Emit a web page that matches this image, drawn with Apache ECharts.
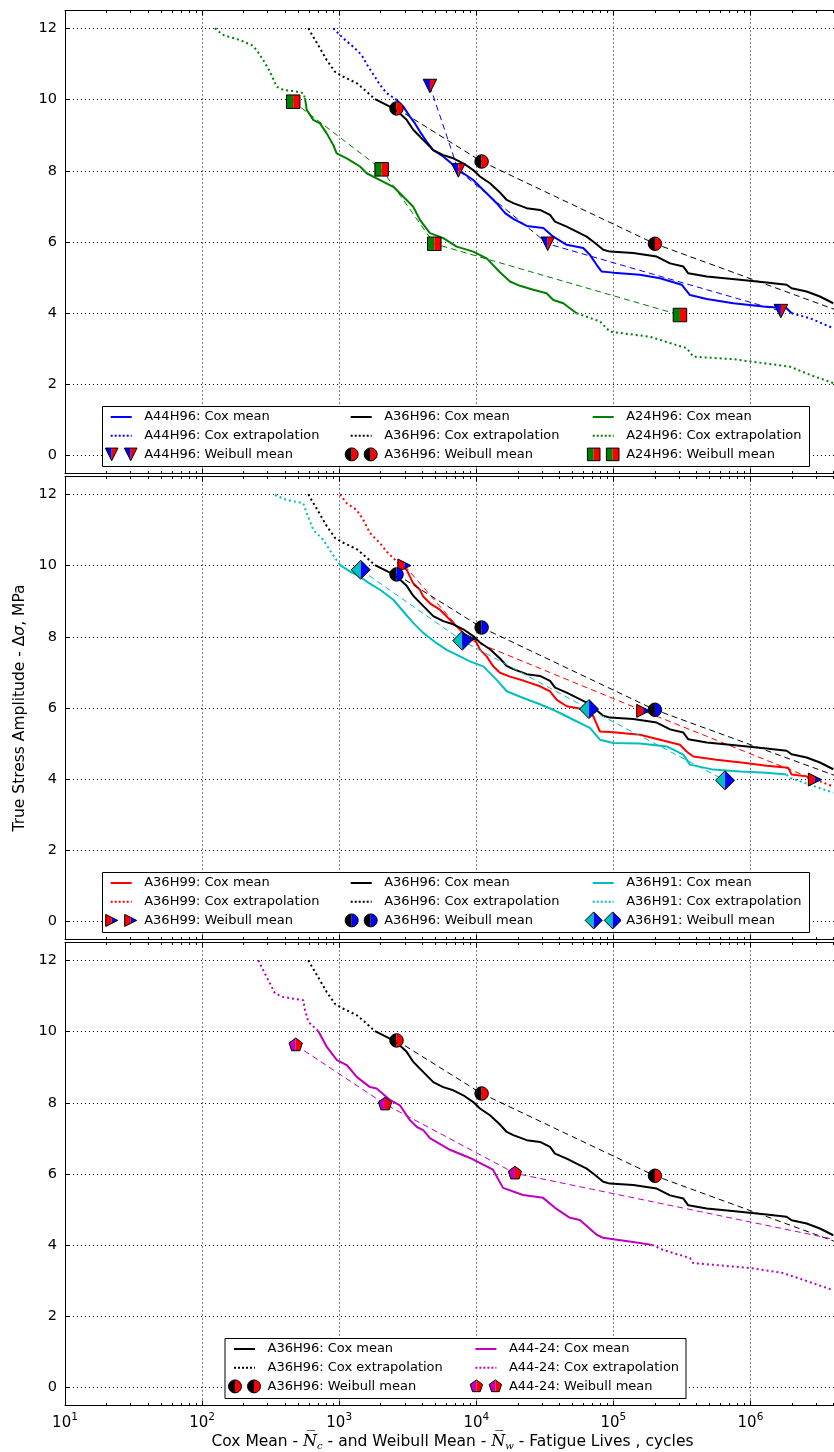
<!DOCTYPE html>
<html>
<head>
<meta charset="utf-8">
<script src="https://cdn.jsdelivr.net/npm/echarts@6.0.0/dist/echarts.min.js"></script>
<style>
html,body{margin:0;padding:0;background:#fff;}
#chart{width:834px;height:1452px;}
</style>
</head>
<body>
<div id="chart"></div>
<script>
// ================= DATA (cycles, stress MPa) =================
const minorTickValues = [20,30,40,50,60,70,80,90,
  200,300,400,500,600,700,800,900,
  2000,3000,4000,5000,6000,7000,8000,9000,
  20000,30000,40000,50000,60000,70000,80000,90000,
  200000,300000,400000,500000,600000,700000,800000,900000,
  2000000,3000000,4000000];

// A36H96 (black) - same in all panels
const a36h96ExtrapLeft = [[596,12.0],[647,11.76],[724,11.44],[811,11.11],[931,10.78],[1071,10.64],[1342,10.46],[1588,10.22],[1824,10.01]];
const a36h96CoxMean = [[1824,10.01],[1985,9.94],[2344,9.80],[2773,9.61],[3105,9.43],[3468,9.15],[3881,8.96],[4343,8.77],[4857,8.58],[5744,8.44],[6797,8.35],[8041,8.21],[9510,8.02],[10640,7.84],[12590,7.65],[14890,7.39],[16680,7.18],[18630,7.09],[23340,6.95],[29170,6.90],[34510,6.76],[37540,6.57],[45640,6.43],[53970,6.29],[63860,6.15],[73450,5.97],[84400,5.78],[94450,5.73],[139600,5.69],[207000,5.59],[259000,5.40],[324000,5.31],[352000,5.12],[480000,5.03],[838000,4.94],[1312000,4.86],[1836000,4.80],[1997000,4.70],[2569000,4.61],[3212000,4.47],[4018000,4.28]];
const a36h96Weibull = [[2620,9.75],[10940,8.26],[201000,5.95],[4900000,4.00]];

// A44H96 (blue)
const a44h96ExtrapLeft = [[906,12.0],[1071,11.72],[1267,11.48],[1459,11.25],[1630,10.92],[1824,10.64],[1985,10.41],[2222,10.18],[2624,9.99]];
const a44h96CoxMean = [[2624,9.99],[2938,9.80],[3283,9.52],[3571,9.33],[3881,9.10],[4343,8.82],[4857,8.58],[5744,8.40],[6797,8.16],[8041,7.93],[9510,7.74],[10640,7.55],[11910,7.37],[14090,7.09],[16220,6.81],[18630,6.65],[23340,6.45],[30830,6.39],[36480,6.15],[45640,5.92],[60260,5.83],[67450,5.64],[75510,5.36],[82220,5.17],[99800,5.14],[156300,5.08],[218800,4.98],[315000,4.80],[362000,4.51],[480000,4.40],[750000,4.28],[1240000,4.19],[1836000,4.14],[1997000,4.00]];
const a44h96ExtrapRight = [[1997000,4.00],[2716000,3.86],[4018000,3.58]];
const a44h96Weibull = [[4590,10.38],[7400,8.01],[33200,5.95],[1667000,4.06]];

// A24H96 (green)
const a24h96ExtrapLeft = [[124,12.0],[143,11.81],[189,11.67],[230,11.53],[250,11.39],[279,11.11],[313,10.78],[350,10.36],[391,10.27],[462,10.24],[547,10.18],[563,10.04]];
const a24h96CoxMean = [[563,10.04],[580,9.71],[647,9.43],[724,9.33],[811,9.05],[906,8.72],[959,8.49],[1135,8.35],[1419,8.12],[1588,7.93],[1985,7.74],[2483,7.55],[2938,7.27],[3468,6.99],[3881,6.62],[4592,6.25],[5744,6.11],[7194,5.87],[9510,5.73],[11910,5.54],[14890,5.15],[17620,4.89],[20840,4.77],[26060,4.66],[32590,4.56],[36480,4.37],[43150,4.28],[48200,4.14],[53970,4.00]];
const a24h96ExtrapRight = [[53970,4.00],[79800,3.77],[94450,3.48],[184500,3.34],[342000,3.02],[383000,2.78],[750000,2.71],[1941000,2.50],[2716000,2.27],[4018000,2.04]];
const a24h96Weibull = [[462,9.94],[2040,8.04],[4940,5.95],[306000,3.95]];

// A36H99 (red)
const a36h99ExtrapLeft = [[1014,12.0],[1135,11.75],[1342,11.56],[1500,11.28],[1679,10.91],[1985,10.63],[2222,10.39],[2483,10.21],[2773,10.02]];
const a36h99CoxMean = [[2773,10.02],[3105,9.88],[3283,9.69],[3468,9.50],[3881,9.32],[4102,9.13],[4592,8.94],[5433,8.76],[6427,8.48],[7603,8.20],[8511,8.01],[9780,7.92],[10640,7.64],[11910,7.45],[13300,7.17],[14890,6.99],[17620,6.88],[22030,6.77],[29170,6.61],[34510,6.47],[38650,6.23],[45640,6.05],[53970,6.00],[63860,5.95],[71290,5.77],[79800,5.34],[99800,5.32],[156300,5.25],[218800,5.11],[306000,4.97],[342000,4.78],[383000,4.64],[566000,4.55],[885000,4.46],[1312000,4.38],[1888000,4.32],[1997000,4.13],[2569000,4.08],[2716000,3.99]];
const a36h99ExtrapRight = [[2716000,3.99],[3212000,3.94],[4018000,3.80]];
const a36h99Weibull = [[2990,10.00],[8750,7.94],[165000,5.92],[2950000,3.99]];

// A36H91 (cyan)
const a36h91ExtrapLeft = [[340,11.98],[414,11.84],[547,11.75],[580,11.47],[647,11.00],[766,10.72],[882,10.35],[1014,10.02]];
const a36h91CoxMean = [[1014,10.02],[1199,9.83],[1419,9.69],[1588,9.55],[1985,9.32],[2483,9.04],[2938,8.71],[3468,8.39],[4102,8.11],[5138,7.82],[6081,7.63],[7603,7.45],[8995,7.31],[11250,7.17],[14090,6.79],[16680,6.47],[22030,6.28],[27610,6.14],[36480,5.95],[40740,5.86],[51050,5.67],[67450,5.44],[79800,5.11],[99800,5.02],[156300,5.00],[245000,4.92],[324000,4.69],[362000,4.41],[535000,4.27],[838000,4.22],[1312000,4.18],[1836000,4.13]];
const a36h91ExtrapRight = [[1836000,4.13],[1941000,4.04],[4018000,3.62]];
const a36h91Weibull = [[1436,9.88],[7900,7.89],[66400,5.97],[652000,3.97]];

// A44-24 (magenta)
const a4424ExtrapLeft = [[257,12.0],[279,11.72],[313,11.35],[340,11.07],[391,10.97],[547,10.88],[563,10.60],[596,10.27],[705,10.01]];
const a4424CoxMean = [[705,10.01],[815,9.56],[963,9.20],[1135,9.06],[1349,8.72],[1679,8.44],[1875,8.40],[2350,8.08],[2773,7.93],[2918,7.80],[3283,7.51],[3690,7.32],[4102,7.23],[4592,7.01],[6427,6.68],[8995,6.45],[13240,6.12],[15670,5.61],[21930,5.41],[30690,5.33],[37540,5.05],[48200,4.77],[57020,4.71],[75860,4.29],[83950,4.21],[139000,4.09],[191400,4.01]];
const a4424ExtrapRight = [[191400,4.01],[230000,3.87],[362000,3.64],[381000,3.50],[993000,3.36],[1726000,3.22],[4018000,2.74]];
const a4424Weibull = [[482,9.62],[2160,7.96],[19150,6.02],[6600000,4.00]];

// ================= STYLE / LAYOUT =================
const FONT = 'DejaVu Sans';
const X_MIN = 10, X_MAX = 4.5e6, Y_MIN = -0.5, Y_MAX = 12.5;
const PANEL_TOPS = [10.5, 476.5, 942.5];
const PANEL_H = 463;
const COL = {blue:'#0000ff', green:'#008000', red:'#ff0000', cyan:'#00bfbf', magenta:'#bf00bf', black:'#000000'};

const SHAPES = {
  'v': {full:[[-1,-1],[1,-1],[0,1]], L:[[-1,-1],[0,-1],[0,1]], R:[[0,-1],[1,-1],[0,1]]},
  '>': {full:[[-1,-1],[1,0],[-1,1]], L:[[-1,-1],[0,-0.5],[0,0.5],[-1,1]], R:[[0,-0.5],[1,0],[0,0.5]]},
  's': {full:[[-1,-1],[1,-1],[1,1],[-1,1]], L:[[-1,-1],[0,-1],[0,1],[-1,1]], R:[[0,-1],[1,-1],[1,1],[0,1]]},
  'D': {full:[[0,-1],[1,0],[0,1],[-1,0]], L:[[0,-1],[0,1],[-1,0]], R:[[0,-1],[1,0],[0,1]]},
  'p': {full:[[0,-1],[0.951,-0.309],[0.588,0.809],[-0.588,0.809],[-0.951,-0.309]],
        L:[[0,-1],[-0.951,-0.309],[-0.588,0.809],[0,0.809]], R:[[0,-1],[0.951,-0.309],[0.588,0.809],[0,0.809]]}
};
const MARKER_R = {'v':6.75,'>':6.5,'s':6.75,'o':6.75,'D':9.5,'p':7};
const LEGEND_R = {'v':6.3,'>':6.0,'s':6.3,'o':6.5,'D':8.5,'p':6.5};

function markerMarkup(shape, cL, cR, r, cx, cy) {
  if (shape === 'o') {
    return `<path d="M${cx},${cy-r} A${r},${r} 0 0,0 ${cx},${cy+r} Z" fill="${cL}"/>` +
           `<path d="M${cx},${cy-r} A${r},${r} 0 0,1 ${cx},${cy+r} Z" fill="${cR}"/>` +
           `<circle cx="${cx}" cy="${cy}" r="${r}" fill="none" stroke="#000" stroke-width="1"/>`;
  }
  const s = SHAPES[shape];
  const P = arr => arr.map(([x,y]) => (cx + x*r).toFixed(2) + ',' + (cy + y*r).toFixed(2)).join(' ');
  return `<polygon points="${P(s.L)}" fill="${cL}"/><polygon points="${P(s.R)}" fill="${cR}"/>` +
         `<polygon points="${P(s.full)}" fill="none" stroke="#000" stroke-width="1"/>`;
}
function svgUrl(w, h, inner) {
  const svg = `<svg xmlns="http://www.w3.org/2000/svg" width="${w}" height="${h}" viewBox="0 0 ${w} ${h}">${inner}</svg>`;
  return 'image://data:image/svg+xml;charset=utf-8,' + encodeURIComponent(svg);
}
function chartSymbol(shape, cL, cR) {
  const r = MARKER_R[shape];
  const S = Math.ceil(2*r + 3);
  return {url: svgUrl(S, S, markerMarkup(shape, cL, cR, r, S/2, S/2)), size: S};
}
function legendMarkerIcon(shape, cL, cR) {
  const r = LEGEND_R[shape];
  return svgUrl(40, 20, markerMarkup(shape, cL, cR, r, 12.5, 10) + markerMarkup(shape, cL, cR, r, 31.5, 10));
}
function legendLineIcon(color, dotted) {
  const dash = dotted ? ' stroke-dasharray="2,2"' : '';
  return svgUrl(40, 20, `<line x1="11.5" y1="10" x2="32.5" y2="10" stroke="${color}" stroke-width="2"${dash}/>`);
}

const groups = [
  {panel:0, name:'A44H96', color:COL.blue,  mean:a44h96CoxMean, extrap:[a44h96ExtrapLeft, a44h96ExtrapRight], weib:a44h96Weibull, shape:'v', cL:COL.blue,  cR:COL.red},
  {panel:0, name:'A36H96', color:COL.black, mean:a36h96CoxMean, extrap:[a36h96ExtrapLeft], weib:a36h96Weibull, shape:'o', cL:COL.black, cR:COL.red},
  {panel:0, name:'A24H96', color:COL.green, mean:a24h96CoxMean, extrap:[a24h96ExtrapLeft, a24h96ExtrapRight], weib:a24h96Weibull, shape:'s', cL:COL.green, cR:COL.red},
  {panel:1, name:'A36H99', color:COL.red,   mean:a36h99CoxMean, extrap:[a36h99ExtrapLeft, a36h99ExtrapRight], weib:a36h99Weibull, shape:'>', cL:COL.red,   cR:COL.blue},
  {panel:1, name:'A36H96', color:COL.black, mean:a36h96CoxMean, extrap:[a36h96ExtrapLeft], weib:a36h96Weibull, shape:'o', cL:COL.black, cR:COL.blue},
  {panel:1, name:'A36H91', color:COL.cyan,  mean:a36h91CoxMean, extrap:[a36h91ExtrapLeft, a36h91ExtrapRight], weib:a36h91Weibull, shape:'D', cL:COL.cyan,  cR:COL.blue},
  {panel:2, name:'A36H96', color:COL.black, mean:a36h96CoxMean, extrap:[a36h96ExtrapLeft], weib:a36h96Weibull, shape:'o', cL:COL.black, cR:COL.red},
  {panel:2, name:'A44-24', color:COL.magenta, mean:a4424CoxMean, extrap:[a4424ExtrapLeft, a4424ExtrapRight], weib:a4424Weibull, shape:'p', cL:COL.magenta, cR:COL.red}
];

// legend layout (style)
const LEGEND_BOX = [
  {x:102.5, y:406.5, w:707, h:60, cols:[103.2, 343.2, 585.2]},
  {x:102.5, y:872.5, w:707, h:60, cols:[103.2, 343.2, 585.2]},
  {x:225.0, y:1338.5, w:461, h:60, cols:[226.5, 467.9]}
];

// ================= OPTION =================
const grids = [], xAxes = [], yAxes = [], series = [], legends = [], graphics = [];

const supFormatter = v => {
  const e = Math.round(Math.log10(v));
  return '{b|10}{s|' + e + '}';
};

PANEL_TOPS.forEach((top, g) => {
  grids.push({left:65, right:-6, top:top, height:PANEL_H, outerBoundsMode:'none', containLabel:false});
  // bottom x axis
  xAxes.push({
    type:'log', logBase:10, gridIndex:g, min:X_MIN, max:X_MAX, position:'bottom',
    axisLine:{show:true, onZero:false, lineStyle:{color:'#000', width:1}},
    axisTick:{show:true, inside:true, length:5, lineStyle:{color:'#000', width:1}},
    minorTick:{show:false},
    axisLabel:{show: g===2, showMaxLabel:false, margin:6.5, color:'#000', fontFamily:FONT, fontSize:15,
      formatter: supFormatter,
      rich:{ b:{fontSize:15, lineHeight:19, fontFamily:FONT, color:'#000', verticalAlign:'bottom'},
             s:{fontSize:10.5, lineHeight:10, fontFamily:FONT, color:'#000', verticalAlign:'top'} }},
    splitLine:{show:true, lineStyle:{color:'#000', width:1, type:[1,3]}},
    name: g===2 ? '{t|Cox Mean - }{m|N\u0305}{sub|c}{t| - and Weibull Mean - }{m|N\u0305}{sub|w}{t| - Fatigue Lives , cycles}' : '',
    nameLocation:'middle', nameGap:26,
    nameTextStyle:{color:'#000', fontFamily:FONT, fontSize:15.5,
      rich:{ t:{fontSize:15.5, fontFamily:FONT, color:'#000', lineHeight:20},
             m:{fontSize:16, fontFamily:'DejaVu Serif', fontStyle:'italic', color:'#000', lineHeight:20},
             sub:{fontSize:10, fontFamily:'DejaVu Serif', fontStyle:'italic', color:'#000', lineHeight:9, verticalAlign:'bottom'} }}
  });
  // top x axis (ticks only)
  xAxes.push({
    type:'log', logBase:10, gridIndex:g, min:X_MIN, max:X_MAX, position:'top',
    axisLine:{show:true, onZero:false, lineStyle:{color:'#000', width:1}},
    axisTick:{show:true, inside:true, length:5, lineStyle:{color:'#000', width:1}},
    axisLabel:{show:false}, splitLine:{show:false}
  });
  yAxes.push({
    type:'value', gridIndex:g, min:Y_MIN, max:Y_MAX, splitNumber:6,
    axisLine:{show:true, onZero:false, lineStyle:{color:'#000', width:1}},
    axisTick:{show:true, inside:true, length:5, lineStyle:{color:'#000', width:1}},
    axisLabel:{show:true, showMinLabel:false, showMaxLabel:false, margin:8, color:'#000', fontSize:14.5, fontFamily:FONT},
    splitLine:{show:true, lineStyle:{color:'#000', width:1, type:[1,3]}},
    name: g===1 ? '{t|True Stress Amplitude - Δ}{i|σ}{t|, MPa}' : '',
    nameLocation:'middle', nameGap:35, nameRotate:90,
    nameTextStyle:{color:'#000', fontFamily:FONT, fontSize:15.5,
      rich:{ t:{fontSize:15.5, fontFamily:FONT, color:'#000'},
             i:{fontSize:15.5, fontFamily:FONT, fontStyle:'italic', color:'#000'} }}
  });
  // minor ticks (top and bottom) drawn from the axis scale
  series.push({
    type:'custom', xAxisIndex:2*g, yAxisIndex:g, silent:true, clip:false, z:1,
    data: minorTickValues.map(v => [v, 0]),
    renderItem: (params, api) => {
      const v = api.value(0);
      const b = api.coord([v, Y_MIN]);
      const t = api.coord([v, Y_MAX]);
      const x = Math.round(b[0]) + 0.5;
      return {type:'group', children:[
        {type:'line', shape:{x1:x, y1:b[1], x2:x, y2:b[1]-2.5}, style:{stroke:'#000', lineWidth:1}},
        {type:'line', shape:{x1:x, y1:t[1], x2:x, y2:t[1]+2.5}, style:{stroke:'#000', lineWidth:1}}
      ]};
    }
  });
});

groups.forEach(gr => {
  const xi = gr.panel*2, yi = gr.panel;
  series.push({type:'line', name:gr.name + ': Cox mean', xAxisIndex:xi, yAxisIndex:yi, data:gr.mean,
    showSymbol:false, symbol:'none', silent:true, z:2,
    lineStyle:{color:gr.color, width:2}, itemStyle:{color:gr.color}});
  gr.extrap.forEach(seg => series.push({type:'line', name:gr.name + ': Cox extrapolation', xAxisIndex:xi, yAxisIndex:yi, data:seg,
    showSymbol:false, symbol:'none', silent:true, z:2,
    lineStyle:{color:gr.color, width:2, type:[2,3]}, itemStyle:{color:gr.color}}));
  series.push({type:'line', name:gr.name + ' Weibull trend', xAxisIndex:xi, yAxisIndex:yi, data:gr.weib,
    showSymbol:false, symbol:'none', silent:true, z:2,
    lineStyle:{color:gr.color, width:1, type:[6,4]}, itemStyle:{color:gr.color}});
  const sym = chartSymbol(gr.shape, gr.cL, gr.cR);
  series.push({type:'scatter', name:gr.name + ': Weibull mean', xAxisIndex:xi, yAxisIndex:yi, data:gr.weib,
    symbol:sym.url, symbolSize:sym.size, silent:true, z:3, clip:true,
    itemStyle:{opacity:1}, emphasis:{disabled:true}});
});

// legends: one vertical legend per column
[0,1,2].forEach(p => {
  const box = LEGEND_BOX[p];
  graphics.push({type:'rect', z:5, silent:true,
    shape:{x:box.x, y:box.y, width:box.w, height:box.h},
    style:{fill:'#fff', stroke:'#000', lineWidth:1}});
  groups.filter(gr => gr.panel === p).forEach((gr, ci) => {
    legends.push({
      orient:'vertical', left: box.cols[ci] - 4, top: box.y + 0.5, padding:0,
      itemWidth:40, itemHeight:20, itemGap:-1.3, z:6, selectedMode:false,
      itemStyle:{opacity:1},
      textStyle:{color:'#000', fontSize:13, fontFamily:FONT},
      data:[
        {name: gr.name + ': Cox mean', icon: legendLineIcon(gr.color, false)},
        {name: gr.name + ': Cox extrapolation', icon: legendLineIcon(gr.color, true)},
        {name: gr.name + ': Weibull mean', icon: legendMarkerIcon(gr.shape, gr.cL, gr.cR)}
      ]
    });
  });
});

const option = {
  animation:false,
  backgroundColor:'#fff',
  textStyle:{fontFamily:FONT, color:'#000'},
  grid:grids, xAxis:xAxes, yAxis:yAxes, series:series, legend:legends, graphic:graphics
};

const chart = echarts.init(document.getElementById('chart'), null, {renderer:'canvas'});
chart.setOption(option);
</script>
</body>
</html>
